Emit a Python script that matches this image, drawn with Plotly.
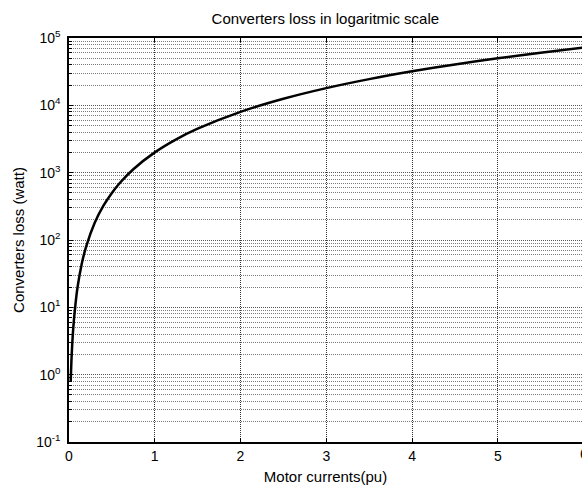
import plotly.graph_objects as go

# Data
motor_current = [0.02, 0.03, 0.05, 0.075, 0.1, 0.15, 0.2, 0.3, 0.4, 0.5, 0.6, 0.75,
                 1.0, 1.25, 1.5, 2.0, 2.5, 3.0, 3.5, 4.0, 4.5, 5.0, 5.5, 6.0]
converter_loss = [0.8, 1.8, 5, 11, 20, 45, 80, 180, 320, 500, 720, 1125,
                  2000, 3125, 4500, 8000, 12500, 18000, 24500, 32000, 40500, 50000, 60500, 72000]

y_tick_vals = [1e-1, 1e0, 1e1, 1e2, 1e3, 1e4, 1e5]
y_tick_text = ["10<sup>-1</sup>", "10<sup>0</sup>", "10<sup>1</sup>", "10<sup>2</sup>",
               "10<sup>3</sup>", "10<sup>4</sup>", "10<sup>5</sup>"]
x_tick_vals = [0, 1, 2, 3, 4, 5]

font_family = "Liberation Sans, Arial, sans-serif"
x_max_visible = 5.982

fig = go.Figure()
fig.add_trace(go.Scatter(
    x=motor_current, y=converter_loss, mode="lines",
    line=dict(color="black", width=2.5, shape="spline", smoothing=0.8),
    showlegend=False, hoverinfo="skip",
))

fig.update_layout(
    width=582, height=487,
    margin=dict(l=69, r=0, t=38, b=45),
    paper_bgcolor="white", plot_bgcolor="white",
    font=dict(family=font_family, size=13, color="black"),
    title=dict(text="Converters loss in logaritmic scale", x=0.559, xanchor="center",
               y=0.961, yanchor="middle", font=dict(size=15)),
)

fig.update_xaxes(
    range=[0, x_max_visible], tickvals=x_tick_vals, ticktext=[str(v) for v in x_tick_vals],
    ticks="inside", ticklen=4, tickcolor="black", showline=True, linecolor="black",
    linewidth=1.5, mirror="ticks", showgrid=True, gridcolor="#333333", griddash="1px,1px",
    gridwidth=1, zeroline=False,
    title=dict(text="Motor currents(pu)", standoff=9, font=dict(size=15)),
    tickfont=dict(size=14),
)

fig.update_yaxes(
    type="log", range=[-1, 5], tickvals=y_tick_vals, ticktext=y_tick_text,
    ticks="inside", ticklen=4, tickcolor="black", showline=True, linecolor="black",
    linewidth=1.5, mirror=False, showgrid=True, gridcolor="#555555", griddash="1px,1px",
    gridwidth=1, zeroline=False, ticklabelstandoff=4,
    minor=dict(dtick="D1", ticks="inside", ticklen=3, tickcolor="black",
               showgrid=True, gridcolor="#7a7a7a", griddash="1px,1px", gridwidth=1),
    title=dict(text="Converters loss (watt)", standoff=8, font=dict(size=15)),
    tickfont=dict(size=14),
)

# Partially visible "6" tick label at the clipped right edge
fig.add_annotation(x=6 / x_max_visible, y=0, xref="paper", yref="paper", text="6",
                   showarrow=False, xanchor="center", yanchor="top", yshift=-2,
                   font=dict(size=14, family=font_family))

fig.write_html("out.html")
